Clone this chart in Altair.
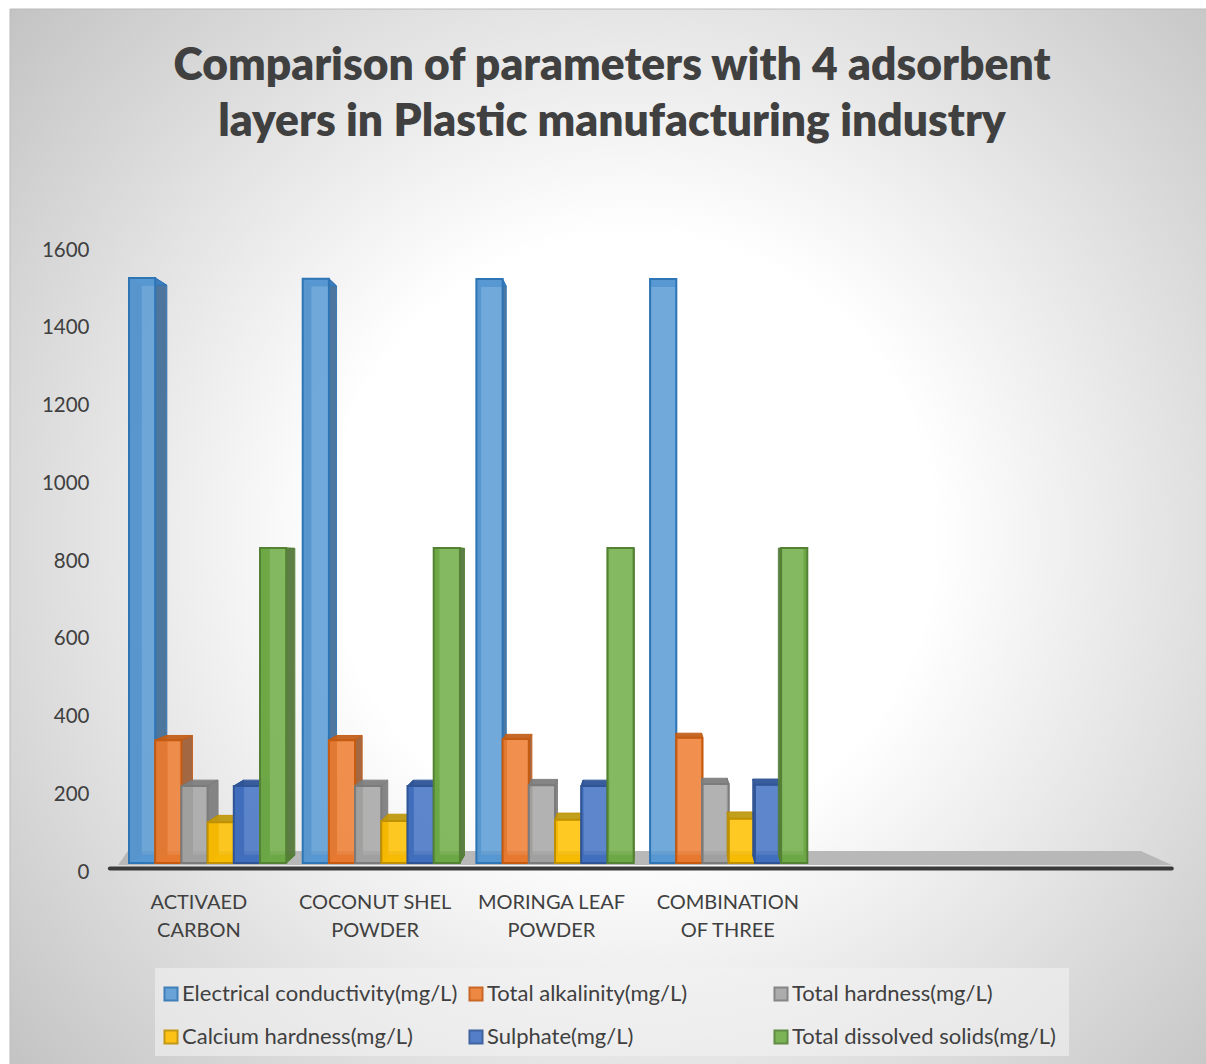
import altair as alt
import pandas as pd

# ---- chart values ----
categories = [
    "ACTIVAED\nCARBON",
    "COCONUT SHEL\nPOWDER",
    "MORINGA LEAF\nPOWDER",
    "COMBINATION\nOF THREE",
]
series_names = [
    "Electrical conductivity(mg/L)",
    "Total alkalinity(mg/L)",
    "Total hardness(mg/L)",
    "Calcium hardness(mg/L)",
    "Sulphate(mg/L)",
    "Total dissolved solids(mg/L)",
]
electrical_conductivity = [1505, 1503, 1502, 1502]
total_alkalinity = [316, 316, 319, 322]
total_hardness = [198, 198, 200, 203]
calcium_hardness = [105, 108, 111, 114]
sulphate = [198, 198, 198, 201]
total_dissolved_solids = [810, 810, 810, 810]
series_values = [
    electrical_conductivity,
    total_alkalinity,
    total_hardness,
    calcium_hardness,
    sulphate,
    total_dissolved_solids,
]
y_ticks = [0, 200, 400, 600, 800, 1000, 1200, 1400, 1600]

# ---- styling ----
fills = ["#5B9BD5", "#ED7D31", "#A5A5A5", "#FFC000", "#4472C4", "#70AD47"]
edges = ["#2E75B6", "#C55A11", "#7B7B7B", "#BF9000", "#2F5597", "#548235"]
walls = ["#45709A", "#A0623A", "#7F7F7F", "#B08A10", "#2C4C8C", "#55783C"]
lids = ["#3F7FBF", "#C2601C", "#7F7F7F", "#BF9A10", "#2F5597", "#548235"]
FONT = "Lato"
INK = "#404040"

# Bars are laid out in "slots" (one slot = one bar width); columns recede toward
# a vanishing point, which gives the box look of the clustered columns.
GROUP_PITCH = 6.63
VANISH_X, VANISH_Y = 20.3, 779
DEPTH_X, DEPTH_Y = 0.023, 0.026


def back_x(x):
    return x + DEPTH_X * (VANISH_X - x)


def back_y(y):
    return y + DEPTH_Y * (VANISH_Y - y)


x_scale = alt.Scale(domain=[0, 40], range=[129, 129 + 40 * 26.2], nice=False, zero=False)
y_scale = alt.Scale(domain=[0, 1600], range=[863, 241], nice=False)
fill_scale = alt.Scale(domain=series_names, range=fills)
edge_scale = alt.Scale(domain=series_names, range=edges)

legend = alt.Legend(
    title=None,
    orient="none",
    direction="horizontal",
    legendX=160,
    legendY=983,
    columns=3,
    gridAlign="all",
    columnPadding=7,
    rowPadding=21,
    symbolType="square",
    symbolSize=170,
    symbolStrokeWidth=2,
    symbolOpacity=0.9,
    labelFont=FONT,
    labelFontSize=22,
    labelColor=INK,
    labelOffset=0,
    labelLimit=400,
    zindex=1,
)

value_axis = alt.Axis(
    values=y_ticks,
    format="d",
    title=None,
    grid=False,
    domain=False,
    ticks=False,
    offset=-89,
    labelPadding=0,
    labelOffset=9,
    labelFont=FONT,
    labelFontSize=20.5,
    labelColor=INK,
    zindex=1,
)


def X(field="x"):
    return alt.X(f"{field}:Q", scale=x_scale, axis=None, stack=None)


def Y(field="y"):
    return alt.Y(f"{field}:Q", scale=y_scale, axis=value_axis, stack=None)


# ---- page background and legend panel ----
one_row = pd.DataFrame({"row": [0]})
backdrop = alt.Chart(one_row).mark_rect(
    fill={
        "gradient": "radial",
        "x1": 0.52, "y1": 0.5, "r1": 0,
        "x2": 0.52, "y2": 0.5, "r2": 0.72,
        "stops": [
            {"offset": 0, "color": "#FFFFFF"},
            {"offset": 0.35, "color": "#FFFFFF"},
            {"offset": 1, "color": "#BEBEBE"},
        ],
    },
    stroke="#BBBBBB",
    strokeWidth=1,
).encode(x=alt.value(10), x2=alt.value(1207), y=alt.value(9), y2=alt.value(1065))

legend_panel = alt.Chart(one_row).mark_rect(fill="#F2F2F2", opacity=0.6).encode(
    x=alt.value(155), x2=alt.value(1069), y=alt.value(968), y2=alt.value(1056)
)

# ---- floor and baseline ----
floor_df = pd.DataFrame(
    {
        "x": [-0.42, -0.04, 38.62, 39.8],
        "y": [-5, 31, 31, -5],
        "y0": [-5, -5, -5, -5],
    }
)
floor = alt.Chart(floor_df).mark_area(fill="#B8B8B8").encode(
    x=X(), y=Y(), y2=alt.Y2("y0:Q")
)
baseline = alt.Chart(pd.DataFrame({"x": [-0.73], "x0": [39.8], "y": [-14]})).mark_rule(
    color="#3A3A3A", strokeWidth=4, strokeCap="round"
).encode(x=X(), x2=alt.X2("x0:Q"), y=Y())

# ---- columns, one stack of layers per series so later series sit in front ----
layers = []
for s, (name, values) in enumerate(zip(series_names, series_values)):
    wall_rows, lid_rows, front_rows = [], [], []
    for c, value in enumerate(values):
        left = c * GROUP_PITCH + s
        right = left + 1
        front_rows.append(
            {"series": name, "x": left, "x0": right, "y": value, "y0": 0}
        )
        for face, edge in (("l", left), ("r", right)):
            key = f"{c}{face}"
            wall_rows.append({"face": key, "x": edge, "y": value, "y0": 0})
            wall_rows.append(
                {"face": key, "x": back_x(edge), "y": back_y(value), "y0": back_y(0)}
            )
        for face, level in (("t", value), ("b", 0)):
            key = f"{c}{face}"
            lid_rows.append({"face": key, "y": level, "x": left, "x0": right})
            lid_rows.append(
                {"face": key, "y": back_y(level), "x": back_x(left), "x0": back_x(right)}
            )

    layers.append(
        alt.Chart(pd.DataFrame(wall_rows))
        .mark_area(fill=walls[s], stroke=edges[s], strokeWidth=1, opacity=0.95)
        .encode(x=X(), y=Y(), y2=alt.Y2("y0:Q"), detail="face:N")
    )
    layers.append(
        alt.Chart(pd.DataFrame(lid_rows))
        .mark_area(orient="horizontal", fill=lids[s], stroke=edges[s], strokeWidth=1, opacity=0.95)
        .encode(x=X(), x2=alt.X2("x0:Q"), y=Y(), detail="face:N")
    )
    layers.append(
        alt.Chart(pd.DataFrame(front_rows))
        .mark_rect(strokeWidth=2, fillOpacity=0.86)
        .encode(
            x=X(),
            x2=alt.X2("x0:Q"),
            y=Y(),
            y2=alt.Y2("y0:Q"),
            fill=alt.Fill("series:N", scale=fill_scale, legend=legend),
            stroke=alt.Stroke("series:N", scale=edge_scale, legend=legend),
        )
    )

# ---- category labels under each cluster, nudged along the same perspective ----
label_df = pd.DataFrame(
    {
        "label": categories,
        "x": [
            (c * GROUP_PITCH + 3) - 0.015 * (VANISH_X + 5 - (c * GROUP_PITCH + 3))
            for c in range(len(categories))
        ],
    }
)
category_labels = (
    alt.Chart(label_df)
    .mark_text(
        font=FONT,
        fontSize=20,
        color=INK,
        align="center",
        baseline="middle",
        lineBreak="\n",
        lineHeight=28,
    )
    .encode(x=X(), y=alt.value(903), text="label:N")
)

chart = (
    alt.layer(backdrop, legend_panel, floor, baseline, *layers, category_labels)
    .properties(
        width=1206,
        height=1064,
        padding=0,
        autosize=alt.AutoSizeParams(type="none"),
        background="white",
        title=alt.Title(
            text=[
                "Comparison of parameters with 4 adsorbent",
                "layers in Plastic manufacturing industry",
            ],
            font=FONT,
            fontSize=44.4,
            fontWeight=800,
            color=INK,
            lineHeight=56,
            anchor="middle",
            dx=9,
            dy=145,
            offset=0,
        ),
    )
    .configure_view(stroke=None)
)

chart.save("out.html", embed_options={"renderer": "svg", "actions": False})
